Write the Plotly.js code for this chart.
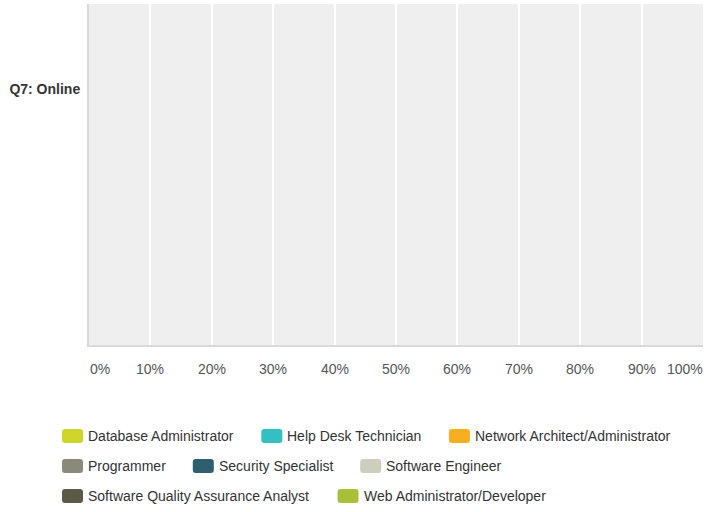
<!DOCTYPE html>
<html>
<head>
<meta charset="utf-8">
<script src="https://cdn.plot.ly/plotly-3.0.1.min.js"></script>
<style>html,body{margin:0;padding:0;background:#fff;}#chart{width:704px;height:512px;}</style>
</head>
<body>
<div id="chart"></div>
<script>
// ---- data ----
const categories = ["Q7: Online"];
const seriesNames = [
  "Database Administrator",
  "Help Desk Technician",
  "Network Architect/Administrator",
  "Programmer",
  "Security Specialist",
  "Software Engineer",
  "Software Quality Assurance Analyst",
  "Web Administrator/Developer"
];
const seriesValues = [
  [0], [0], [0], [0], [0], [0], [0], [0]
];
const seriesColors = [
  "#d0d52c", "#35bfc0", "#f8ae21", "#898a79",
  "#2e5f6e", "#cecebf", "#5b5a48", "#a8bf3a"
];
const tickValues = [0, 10, 20, 30, 40, 50, 60, 70, 80, 90, 100];
const tickLabels = ["0%", "10%", "20%", "30%", "40%", "50%", "60%", "70%", "80%", "90%", "100%"];

// ---- layout constants ----
const W = 704, H = 512;
const M = {l: 89, r: 1, t: 4, b: 167};
const plotW = W - M.l - M.r, plotH = H - M.t - M.b;
const FONT = '"Liberation Sans", Arial, Helvetica, sans-serif';
const FS = 14;
const px2x = px => (px - M.l) / plotW;
const py2y = py => (H - M.b - py) / plotH;

const traces = seriesNames.map((name, i) => ({
  type: 'bar',
  orientation: 'h',
  name: name,
  y: categories,
  x: seriesValues[i],
  marker: {color: seriesColors[i]},
  showlegend: false,
  hoverinfo: 'name+x'
}));

const annotations = [];
const shapes = [];

// x tick labels (ends shifted inward)
tickValues.forEach((v, i) => {
  let anchor = 'center';
  if (i === 0) anchor = 'left';
  if (i === tickValues.length - 1) anchor = 'right';
  annotations.push({
    x: v, xref: 'x', y: 0, yref: 'paper',
    text: tickLabels[i], showarrow: false,
    xanchor: anchor, yanchor: 'middle', yshift: -24,
    xshift: i === 0 ? -1 : (i === tickValues.length - 1 ? 2 : 0),
    font: {family: FONT, size: FS, color: '#555555'}
  });
});

// custom flow legend
const ctx = document.createElement('canvas').getContext('2d');
ctx.font = FS + 'px ' + FONT;
const legendStartX = 62, swW = 21, swH = 14, txtGap = 26, itemGap = 27, rowH = 30, firstRowY = 436, maxX = 692;
let cx = legendStartX, cy = firstRowY;
seriesNames.forEach((name, i) => {
  const tw = ctx.measureText(name).width;
  const iw = txtGap + tw;
  if (cx !== legendStartX && cx + iw > maxX) { cx = legendStartX; cy += rowH; }
  const x0 = cx, x1 = cx + swW, y0 = cy - swH / 2, y1 = cy + swH / 2, r = 3;
  const X = px2x, Y = py2y;
  const path = `M ${X(x0 + r)} ${Y(y0)} L ${X(x1 - r)} ${Y(y0)} Q ${X(x1)} ${Y(y0)} ${X(x1)} ${Y(y0 + r)} ` +
               `L ${X(x1)} ${Y(y1 - r)} Q ${X(x1)} ${Y(y1)} ${X(x1 - r)} ${Y(y1)} ` +
               `L ${X(x0 + r)} ${Y(y1)} Q ${X(x0)} ${Y(y1)} ${X(x0)} ${Y(y1 - r)} ` +
               `L ${X(x0)} ${Y(y0 + r)} Q ${X(x0)} ${Y(y0)} ${X(x0 + r)} ${Y(y0)} Z`;
  shapes.push({type: 'path', xref: 'paper', yref: 'paper', path: path,
    fillcolor: seriesColors[i], line: {width: 0}});
  annotations.push({
    x: px2x(cx + txtGap), xref: 'paper', y: py2y(cy), yref: 'paper',
    text: name, showarrow: false, xanchor: 'left', yanchor: 'middle', xshift: -2,
    font: {family: FONT, size: FS, color: '#333333'}
  });
  cx += iw + itemGap;
});

const layout = {
  width: W, height: H,
  margin: M,
  paper_bgcolor: '#ffffff',
  plot_bgcolor: '#efefef',
  barmode: 'stack',
  showlegend: false,
  font: {family: FONT, size: FS, color: '#333333'},
  xaxis: {
    range: [0, 100],
    tickvals: tickValues,
    showticklabels: false,
    showgrid: true, gridcolor: '#ffffff', gridwidth: 2,
    zeroline: false,
    showline: true, linecolor: '#d9d9d9', linewidth: 2,
    fixedrange: true
  },
  yaxis: {
    type: 'category',
    range: [-1.5, 0.5],
    autorange: false,
    showgrid: false, zeroline: false,
    showline: true, linecolor: '#d9d9d9', linewidth: 2,
    ticks: '',
    ticklabelstandoff: 4,
    tickfont: {family: FONT, size: FS, color: '#333333', weight: 'bold'},
    fixedrange: true
  },
  annotations: annotations,
  shapes: shapes
};

Plotly.newPlot('chart', traces, layout, {displayModeBar: false, staticPlot: true});
</script>
</body>
</html>
